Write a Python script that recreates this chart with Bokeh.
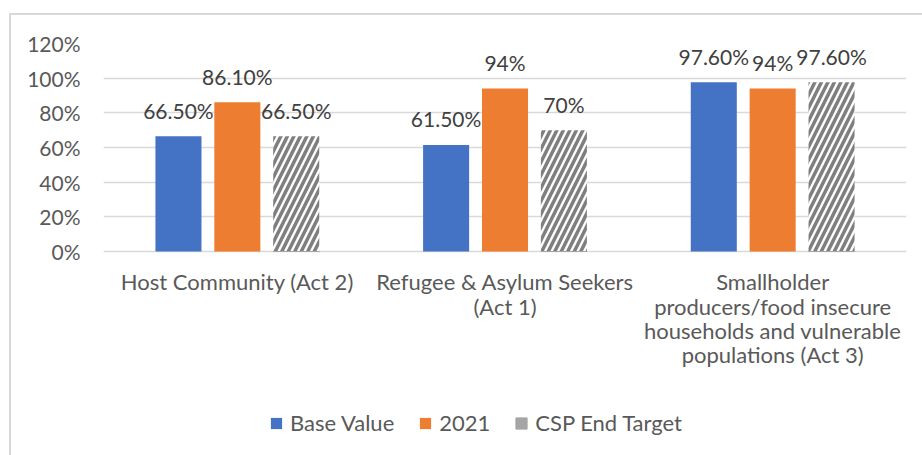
from bokeh.plotting import figure
from bokeh.models import (ColumnDataSource, FactorRange, FixedTicker, PrintfTickFormatter,
                          Legend, LegendItem)
from bokeh.transform import dodge
from bokeh.core.properties import value
from bokeh.embed import file_html
from bokeh.resources import INLINE

categories = ["Host Community (Act 2)", "Refugee & Asylum Seekers\n(Act 1)",
              "Smallholder\nproducers/food insecure\nhouseholds and vulnerable\npopulations (Act 3)"]
base_value = [66.5, 61.5, 97.6]
year_2021 = [86.1, 94.0, 94.0]
csp_target = [66.5, 70.0, 97.6]
base_labels = ["66.50%", "61.50%", "97.60%"]
y2021_labels = ["86.10%", "94%", "94%"]
csp_labels = ["66.50%", "70%", "97.60%"]
y_ticks = [0, 20, 40, 60, 80, 100, 120]
series_names = ["Base Value", "2021", "CSP End Target"]

FONT = "Lato"
TXT = "#595959"

src = ColumnDataSource(dict(cat=categories, base=base_value, y21=year_2021, csp=csp_target,
                            bl=base_labels, yl=y2021_labels, cl=csp_labels,
                            zero=[0] * len(categories)))

bg = ("linear-gradient(#D9D9D9,#D9D9D9) 9px 13px / 2px 100% no-repeat, "
      "linear-gradient(#D9D9D9,#D9D9D9) 9px 13px / 100% 2px no-repeat, white")

# frame: top at 120% (y=43), 0% at y=251, extends to bottom of canvas (y=455)
p = figure(x_range=FactorRange(*categories), y_range=(-117.7, 120), width=922, height=455,
           output_backend="svg", toolbar_location=None,
           min_border_left=103, min_border_right=16, min_border_top=43, min_border_bottom=0,
           styles={"background": bg})
p.outline_line_color = None
p.background_fill_alpha = 0
p.border_fill_alpha = 0
p.xaxis.visible = False

W = 0.172
D = 0.22
r1 = p.vbar(x=dodge("cat", -D, range=p.x_range), top="base", width=W, source=src,
            fill_color="#4472C4", line_color=None)
r2 = p.vbar(x=dodge("cat", 0, range=p.x_range), top="y21", width=W, source=src,
            fill_color="#ED7D31", line_color=None)
r3 = p.vbar(x=dodge("cat", D, range=p.x_range), top="csp", width=W, source=src,
            fill_color="white", line_color=None, hatch_pattern="/", hatch_color="#7F7F7F",
            hatch_weight=3.5, hatch_scale=13)
# zero-height solid gray bars: only provide the legend swatch for the target series
rl = p.vbar(x=dodge("cat", D, range=p.x_range), bottom="zero", top="zero", width=W, source=src,
            fill_color="#A5A5A5", line_color="#A5A5A5", line_width=1, hatch_alpha=0)

for off, col, lab in [(-D, "base", "bl"), (0, "y21", "yl"), (D, "csp", "cl")]:
    p.text(x=dodge("cat", off, range=p.x_range), y=col, text=lab, source=src,
           text_align="center", text_baseline="alphabetic", y_offset=-26,
           text_font=value(FONT), text_font_size="21px", text_color="#404040")

# category labels under the 0% line
p.text(x="cat", y="zero", text="cat", source=src, text_align="center", text_baseline="top",
       y_offset=17, text_font=value(FONT), text_font_size="22px", text_color=TXT,
       text_line_height=0.9)

p.yaxis.ticker = FixedTicker(ticks=y_ticks)
p.yaxis.formatter = PrintfTickFormatter(format="%d%%")
p.yaxis.axis_line_color = None
p.yaxis.major_tick_line_color = None
p.yaxis.minor_tick_line_color = None
p.yaxis.major_tick_out = 0
p.yaxis.major_label_standoff = 23
p.yaxis.major_label_text_font = FONT
p.yaxis.major_label_text_font_size = "21px"
p.yaxis.major_label_text_color = TXT

p.xgrid.grid_line_color = None
p.ygrid.ticker = FixedTicker(ticks=y_ticks)
p.ygrid.grid_line_color = "#D9D9D9"
p.ygrid.grid_line_width = 1.3

legend = Legend(items=[LegendItem(label=series_names[0], renderers=[r1]),
                       LegendItem(label=series_names[1], renderers=[r2]),
                       LegendItem(label=series_names[2], renderers=[rl])],
                location=(166, 19), orientation="horizontal",
                glyph_width=14, glyph_height=14, label_standoff=7, spacing=24,
                padding=0, margin=0, border_line_color=None, background_fill_alpha=0,
                label_text_font=FONT, label_text_font_size="22px", label_text_color=TXT,
                label_height=14)
p.add_layout(legend, "center")

open("out.html", "w").write(file_html(p, INLINE))
